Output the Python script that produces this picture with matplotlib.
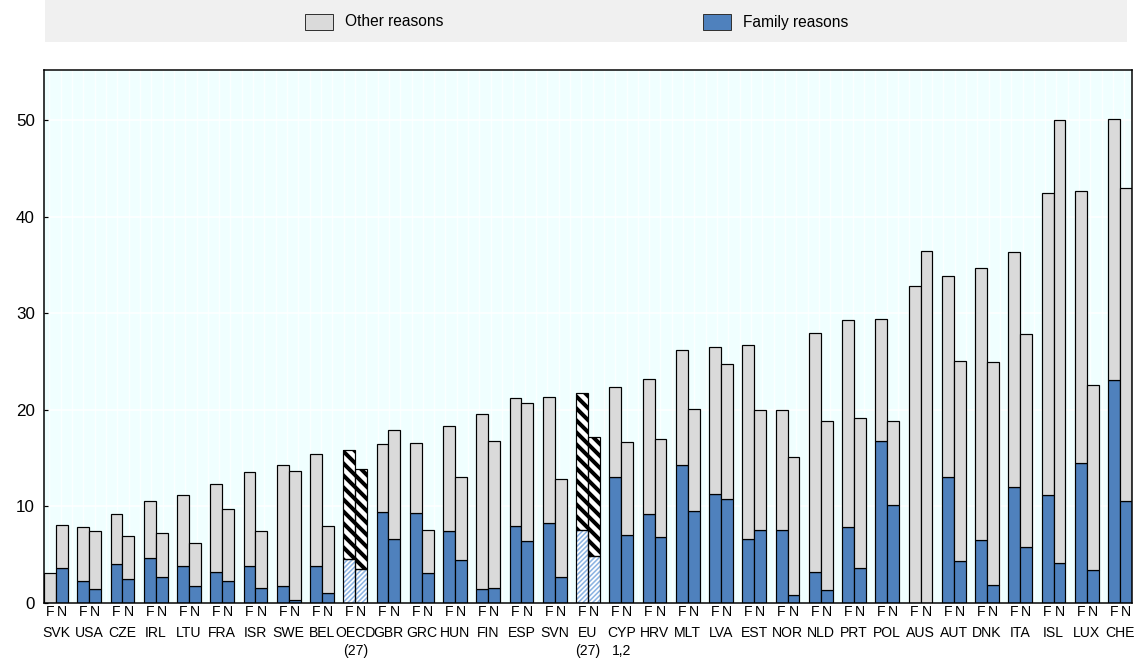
import numpy as np
import matplotlib
matplotlib.use("Agg")
import matplotlib.pyplot as plt
from matplotlib.patches import Rectangle
from matplotlib.transforms import blended_transform_factory

plt.rcParams["font.family"] = ["Liberation Sans", "DejaVu Sans"]

# ── Data (share of workers, %) ───────────────────────────────────────────────
countries = ["SVK", "USA", "CZE", "IRL", "LTU", "FRA", "ISR", "SWE", "BEL", "OECD\n(27)",
             "GBR", "GRC", "HUN", "FIN", "ESP", "SVN", "EU\n(27)", "CYP\n1,2", "HRV", "MLT",
             "LVA", "EST", "NOR", "NLD", "PRT", "POL", "AUS", "AUT", "DNK", "ITA",
             "ISL", "LUX", "CHE"]
# totals (family + other), F = first bar, N = second bar
total_F = [3.1, 7.9, 9.2, 10.6, 11.2, 12.3, 13.6, 14.3, 15.4, 15.8,
           16.5, 16.6, 18.3, 19.6, 21.2, 21.3, 21.8, 22.4, 23.2, 26.2,
           26.5, 26.7, 20.0, 28.0, 29.3, 29.4, 32.8, 33.9, 34.7, 36.4,
           42.5, 42.7, 50.1]
family_F = [0.0, 2.3, 4.0, 4.7, 3.8, 3.2, 3.8, 1.8, 3.8, 4.6,
            9.4, 9.3, 7.5, 1.4, 8.0, 8.3, 7.6, 13.0, 9.2, 14.3,
            11.3, 6.6, 7.6, 3.2, 7.9, 16.8, 0.0, 13.1, 6.5, 12.0,
            11.2, 14.5, 23.1]
total_N = [8.1, 7.5, 6.9, 7.3, 6.2, 9.7, 7.5, 13.7, 8.0, 13.9,
           17.9, 7.6, 13.1, 16.8, 20.7, 12.8, 17.2, 16.7, 17.0, 20.1,
           24.8, 20.0, 15.1, 18.8, 19.2, 18.9, 36.5, 25.1, 25.0, 27.9,
           50.0, 22.6, 43.0]
family_N = [3.6, 1.5, 2.5, 2.7, 1.8, 2.3, 1.6, 0.3, 1.0, 3.5,
            6.6, 3.1, 4.5, 1.6, 6.4, 2.7, 4.9, 7.0, 6.8, 9.5,
            10.8, 7.6, 0.8, 1.3, 3.6, 10.1, 0.0, 4.4, 1.9, 5.8,
            4.1, 3.4, 10.6]
averages = ["OECD\n(27)", "EU\n(27)"]

BLUE = "#4F81BD"
GREY = "#DADADA"
BG = "#F0FFFF"
HATCH_BLUE = "#8DB4E2"

W = 0.36  # bar width
DPI = 72

fig = plt.figure(figsize=(1135 / DPI, 664 / DPI), dpi=DPI)
ax = fig.add_axes([44 / 1135, 1 - 603 / 664, (1132 - 44) / 1135, (603 - 70) / 664])
ax.set_facecolor(BG)

x = np.arange(len(countries))
other_F = np.array(total_F) - np.array(family_F)
other_N = np.array(total_N) - np.array(family_N)
normal = np.array([c not in averages for c in countries])
avg = ~normal

for pos, fam, oth in [(x - W / 2, family_F, other_F), (x + W / 2, family_N, other_N)]:
    fam = np.asarray(fam)
    ax.bar(pos[normal], fam[normal], W, color=BLUE, edgecolor="black", lw=1.2, zorder=3)
    ax.bar(pos[normal], oth[normal], W, bottom=fam[normal], color=GREY,
           edgecolor="black", lw=1.2, zorder=3)
    # hatched averages: hatch layer first, then black outline
    b1 = ax.bar(pos[avg], fam[avg], W, color="white", edgecolor=HATCH_BLUE,
                hatch="/////", lw=0, zorder=3)
    b2 = ax.bar(pos[avg], oth[avg], W, bottom=fam[avg], color="white",
                edgecolor="black", hatch="\\\\", lw=0, zorder=3)
    for p in b1:
        if hasattr(p, "set_hatch_linewidth"):
            p.set_hatch_linewidth(1.6)
    for p in b2:
        if hasattr(p, "set_hatch_linewidth"):
            p.set_hatch_linewidth(4.0)
    ax.bar(pos[avg], fam[avg], W, fill=False, edgecolor="black", lw=1.2, zorder=4)
    ax.bar(pos[avg], oth[avg], W, bottom=fam[avg], fill=False,
           edgecolor="black", lw=1.2, zorder=4)

# faint white vertical stripes in the plot background
ax.vlines(np.arange(0.005, 1, 0.0104), 0, 1, transform=ax.transAxes,
          color="white", lw=1.4, alpha=0.8, zorder=0)

ax.set_xlim(-W, len(countries) - 1 + W)
ax.set_ylim(0, 55.2)
ax.set_yticks([0, 10, 20, 30, 40, 50])
ax.yaxis.grid(True, color="white", lw=1.5, zorder=1)
ax.set_axisbelow(True)
ax.tick_params(axis="y", direction="in", length=4, width=1.2, pad=9,
               labelsize=17, colors="black")
for s in ax.spines.values():
    s.set_linewidth(1.5)
    s.set_zorder(5)

# F / N labels under each bar, country names below
ticks = np.ravel(np.column_stack([x - W / 2, x + W / 2]))
ax.set_xticks(ticks, ["F", "N"] * len(countries))
ax.tick_params(axis="x", length=0, pad=2, labelsize=14)
trans = blended_transform_factory(ax.transData, ax.transAxes)
for xi, name in zip(x, countries):
    ax.text(xi, -0.044, name, transform=trans, ha="center", va="top",
            fontsize=14, linespacing=1.3)

# ── Legend band ──────────────────────────────────────────────────────────────
fig.patches.append(Rectangle((45 / 1135, 1 - 42 / 664), (1127 - 45) / 1135, 42 / 664,
                             transform=fig.transFigure, facecolor="#F0F0F0",
                             edgecolor="none", zorder=0))
for px, col, label in [(305, GREY, "Other reasons"), (703, BLUE, "Family reasons")]:
    fig.patches.append(Rectangle((px / 1135, 1 - 30 / 664), 28 / 1135, 16 / 664,
                                 transform=fig.transFigure, facecolor=col,
                                 edgecolor="#333333", lw=1.0, zorder=1))
    fig.text((px + 40) / 1135, 1 - 22 / 664, label, ha="left", va="center",
             fontsize=15.5)

fig.savefig("out.png", dpi=DPI)
